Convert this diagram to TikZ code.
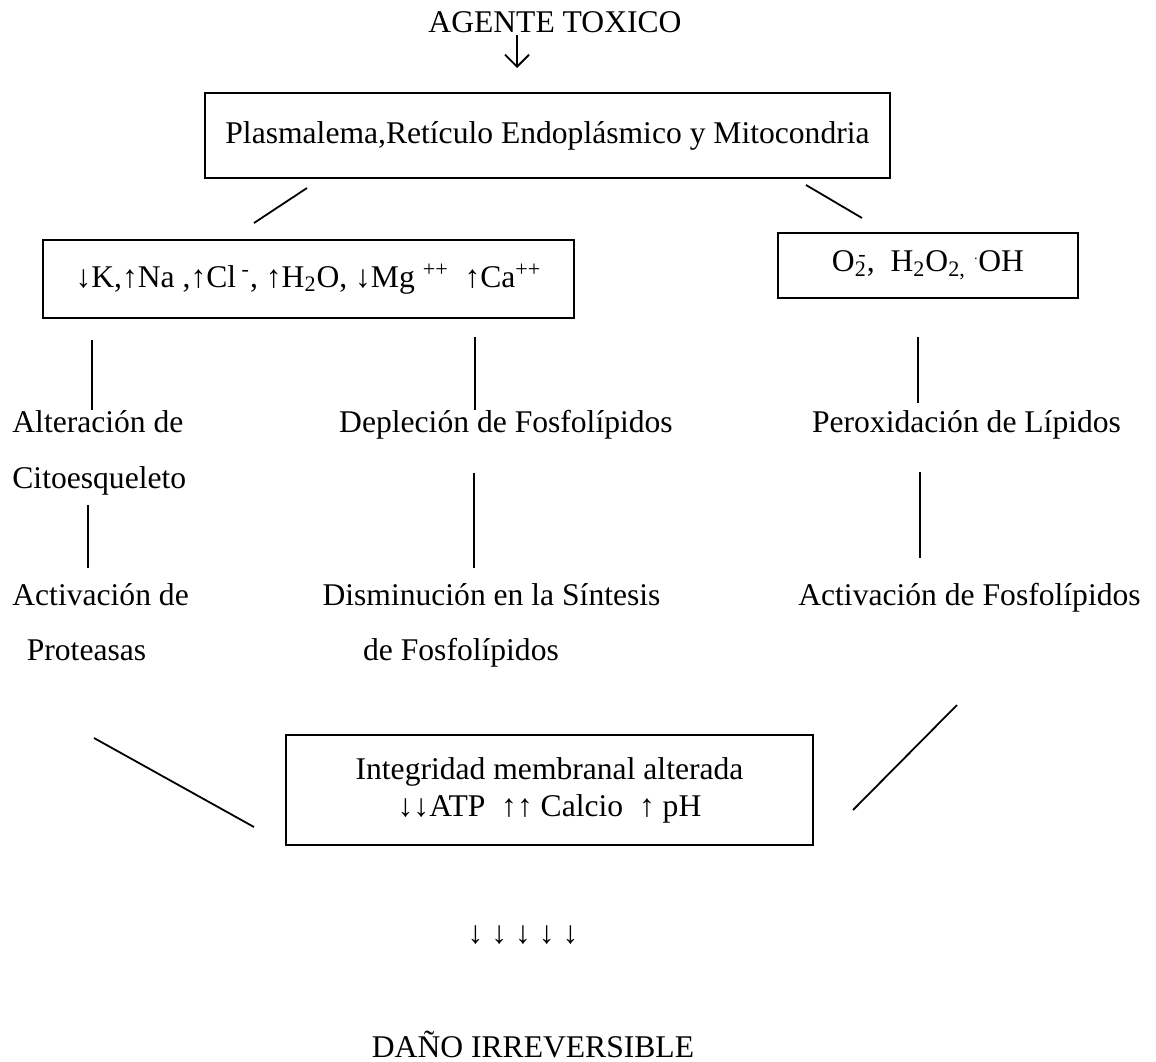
\documentclass[tikz,border=0pt]{standalone}
\usepackage{fontspec}
\setmainfont{Liberation Serif}
\usetikzlibrary{arrows.meta,positioning,calc}

\begin{document}
\begin{tikzpicture}[x=0.5pt,y=-0.5pt,>={Straight Barb[length=6pt,width=12pt]},
  every node/.style={font=\fontsize{15.8pt}{18.5pt}\selectfont, inner sep=0pt},
  caja/.style={draw, line width=1.4pt, align=center},
  linea/.style={line width=0.9pt}]
\useasboundingbox (0,0) rectangle (1156,1061);

% cabecera
\node[anchor=base] (agente) at (555,32) {AGENTE TOXICO};
\coordinate (a1) at (517,35);
\coordinate (a2) at (517,68);
\draw[linea,->] (a1) -- (a2);

\node[caja, minimum width=342.5pt, minimum height=42.5pt] (plasma) at (547.5,135.5)
  {Plasmalema,Retículo Endoplásmico y Mitocondria};

% segundo nivel
\node[caja, minimum width=265.5pt, minimum height=39pt] (iones) at (308.5,279)
  {↓K,↑Na ,↑Cl\textsuperscript{ -}, ↑H\textsubscript{2}O, ↓Mg \textsuperscript{++} \ ↑Ca\textsuperscript{++}};
\node[caja, minimum width=150pt, minimum height=32.5pt] (radic) at (928,265.5)
  {O\textsubscript{2}\llap{\textsuperscript{-}}, \ H\textsubscript{2}O\textsubscript{2,} \raisebox{4pt}{\scriptsize·}OH};

\coordinate (d1a) at (307,188);
\coordinate (d1b) at (254,223);
\coordinate (d2a) at (806,185);
\coordinate (d2b) at (862,218);
\draw[linea] (d1a) -- (d1b);
\draw[linea] (d2a) -- (d2b);

% columnas
\node[anchor=base west] (alt) at (12,432) {Alteración de};
\node[anchor=base west] (cito) at (12,488) {Citoesqueleto};
\node[anchor=base west] (act) at (12,605) {Activación de};
\node[anchor=base] (prot) at (86.5,660) {Proteasas};

\node[anchor=base] (depl) at (506,432) {Depleción de Fosfolípidos};
\node[anchor=base] (dism) at (491.5,605) {Disminución en la Síntesis};
\node[anchor=base] (dism2) at (461,660) {de Fosfolípidos};

\node[anchor=base] (perox) at (966.5,432) {Peroxidación de Lípidos};
\node[anchor=base] (activ) at (969.5,605) {Activación de Fosfolípidos};

\coordinate (v1a) at (92,340);
\coordinate (v1b) at (92,410);
\coordinate (v2a) at (475,337);
\coordinate (v2b) at (475,410);
\coordinate (v3a) at (918,337);
\coordinate (v3b) at (918,403);
\coordinate (v4a) at (88,505);
\coordinate (v4b) at (88,568);
\coordinate (v5a) at (474,473);
\coordinate (v5b) at (474,568);
\coordinate (v6a) at (920,472);
\coordinate (v6b) at (920,558);
\draw[linea] (v1a) -- (v1b);
\draw[linea] (v2a) -- (v2b);
\draw[linea] (v3a) -- (v3b);
\draw[linea] (v4a) -- (v4b);
\draw[linea] (v5a) -- (v5b);
\draw[linea] (v6a) -- (v6b);

% resultado
\node[caja, minimum width=263.5pt, minimum height=55pt] (integ) at (549.5,790)
  {Integridad membranal alterada\\↓↓ATP \ ↑↑ Calcio \ ↑ pH};

\coordinate (d3a) at (94,738);
\coordinate (d3b) at (254,827);
\coordinate (d4a) at (957,705);
\coordinate (d4b) at (853,810);
\draw[linea] (d3a) -- (d3b);
\draw[linea] (d4a) -- (d4b);

\node (flechas) at (523,935) {↓ ↓ ↓ ↓ ↓};
\node[anchor=base] (dano) at (533,1057) {DAÑO IRREVERSIBLE};
\end{tikzpicture}
\end{document}
